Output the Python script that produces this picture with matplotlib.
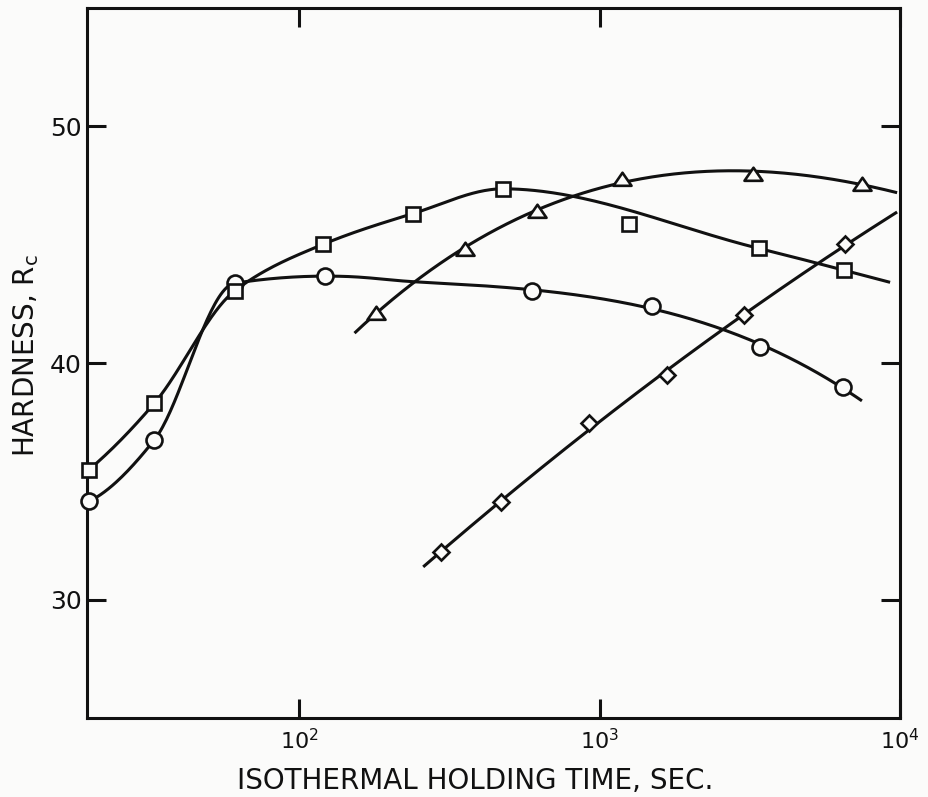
import numpy as np
import matplotlib
matplotlib.use('Agg')
import matplotlib.pyplot as plt
from matplotlib.path import Path

# hardness vs isothermal holding time
circle_t = [20, 33, 61, 122, 596, 1496, 3420, 6460]
circle_hrc = [34.15, 36.75, 43.37, 43.67, 43.04, 42.41, 40.69, 38.97]

square_t = [20, 33, 61, 120, 239, 477, 1253, 3397, 6510]
square_hrc = [35.49, 38.30, 43.04, 45.01, 46.31, 47.36, 45.89, 44.84, 43.92]

tri_t = [180, 357, 619, 1189, 3244, 7470]
tri_hrc = [42.12, 44.80, 46.44, 47.78, 47.99, 47.57]

dia_t = [297, 470, 923, 1679, 3029, 6560]
dia_hrc = [32.01, 34.11, 37.46, 39.48, 42.03, 45.01]

# time span covered by each hand drawn curve
circle_span = [20, 7470]
square_span = [20, 9270]
tri_span = [153, 9780]
dia_span = [259, 9780]

# the drawn square curve passes well above the 1253 s point
square_on_curve = [True, True, True, True, True, True, False, True, True]

xticks = [1e2, 1e3, 1e4]
xticklabels = [r'$\mathregular{10^{2}}$', r'$\mathregular{10^{3}}$', r'$\mathregular{10^{4}}$']
yticks = [30, 40, 50]

paper = '#fbfbfa'
ink = '#111111'


def end_slope(h0, h1, m0, m1):
    d = ((2 * h0 + h1) * m0 - h0 * m1) / (h0 + h1)
    if np.sign(d) != np.sign(m0):
        return 0.0
    if np.sign(m0) != np.sign(m1) and abs(d) > abs(3 * m0):
        return 3 * m0
    return d


def pchip(x, y, xs):
    h = np.diff(x)
    d = np.diff(y) / h
    m = np.zeros(len(x))
    for k in range(1, len(x) - 1):
        if d[k - 1] * d[k] > 0:
            w1 = 2 * h[k] + h[k - 1]
            w2 = h[k] + 2 * h[k - 1]
            m[k] = (w1 + w2) / (w1 / d[k - 1] + w2 / d[k])
    m[0] = end_slope(h[0], h[1], d[0], d[1])
    m[-1] = end_slope(h[-1], h[-2], d[-1], d[-2])
    ys = np.empty(len(xs))
    for i, xv in enumerate(xs):
        if xv <= x[0]:
            ys[i] = y[0] + m[0] * (xv - x[0])
        elif xv >= x[-1]:
            ys[i] = y[-1] + m[-1] * (xv - x[-1])
        else:
            k = min(np.searchsorted(x, xv) - 1, len(h) - 1)
            s = (xv - x[k]) / h[k]
            ys[i] = ((2 * s**3 - 3 * s**2 + 1) * y[k] + (s**3 - 2 * s**2 + s) * h[k] * m[k]
                     + (-2 * s**3 + 3 * s**2) * y[k + 1] + (s**3 - s**2) * h[k] * m[k + 1])
    return ys


def smooth_curve(t, v, span, fit_from, deg, keep=None, n=400):
    # deg 0: monotone cubic through the points (log time)
    # otherwise least squares polynomial for the smooth part of the curve,
    # monotone cubic through the steep early rise, blended together
    x = np.log10(t)
    y = np.array(v, dtype=float)
    if keep is not None:
        x, y = x[np.array(keep)], y[np.array(keep)]
    xs = np.linspace(np.log10(span[0]), np.log10(span[1]), n)
    if deg == 0:
        return 10**xs, pchip(x, y, xs)
    poly = np.polyval(np.polyfit(x[fit_from:], y[fit_from:], deg), xs)
    if fit_from == 0:
        return 10**xs, poly
    rise = pchip(x[:fit_from + 2], y[:fit_from + 2], xs)
    a, b = x[fit_from], x[fit_from] + 0.3
    s = np.clip((xs - a) / (b - a), 0, 1)
    w = s * s * (3 - 2 * s)
    return 10**xs, (1 - w) * rise + w * poly


fig = plt.figure(figsize=(9.29, 7.97), dpi=100, facecolor=paper)
ax = fig.add_axes([87 / 929, 79 / 797, 813 / 929, 710 / 797])
ax.set_facecolor(paper)

tri_marker = Path([(-1, -0.7), (1, -0.7), (0, 0.75), (-1, -0.7)], closed=True)
series = [
    (circle_t, circle_hrc, circle_span, 3, 3, None, 'o', 11.5),
    (square_t, square_hrc, square_span, 0, 0, square_on_curve, 's', 10),
    (tri_t, tri_hrc, tri_span, 0, 3, None, tri_marker, 13),
    (dia_t, dia_hrc, dia_span, 0, 2, None, 'D', 8.5),
]
for t, v, span, fit_from, deg, keep, mk, ms in series:
    cx, cy = smooth_curve(t, v, span, fit_from, deg, keep)
    ax.plot(cx, cy, color=ink, lw=2.2, solid_capstyle='butt', zorder=2)
    ax.plot(t, v, linestyle='none', marker=mk, ms=ms, mfc=paper, mec=ink, mew=1.9,
            zorder=3, clip_on=False)

ax.set_xscale('log')
ax.set_xlim(19.7, 1e4)
ax.set_ylim(25, 55)

ax.set_xticks(xticks)
ax.set_xticklabels(xticklabels)
ax.set_yticks(yticks)
ax.minorticks_off()
ax.tick_params(direction='in', length=14, width=2.2, color=ink, top=True, right=True)
ax.tick_params(axis='x', labelsize=16, pad=7, labelcolor=ink)
ax.tick_params(axis='y', labelsize=18, pad=4, labelcolor=ink)
for s in ax.spines.values():
    s.set_linewidth(2.2)
    s.set_color(ink)

ax.set_xlabel('ISOTHERMAL HOLDING TIME, SEC.', fontsize=20, color=ink)
ax.set_ylabel(r'HARDNESS, R$\mathregular{_c}$', fontsize=20, color=ink)
ax.xaxis.set_label_coords(0.477, -0.069, transform=ax.transAxes)
ax.yaxis.set_label_coords(-0.057, 0.511, transform=ax.transAxes)

fig.savefig('out.png', dpi=100, facecolor=paper)
